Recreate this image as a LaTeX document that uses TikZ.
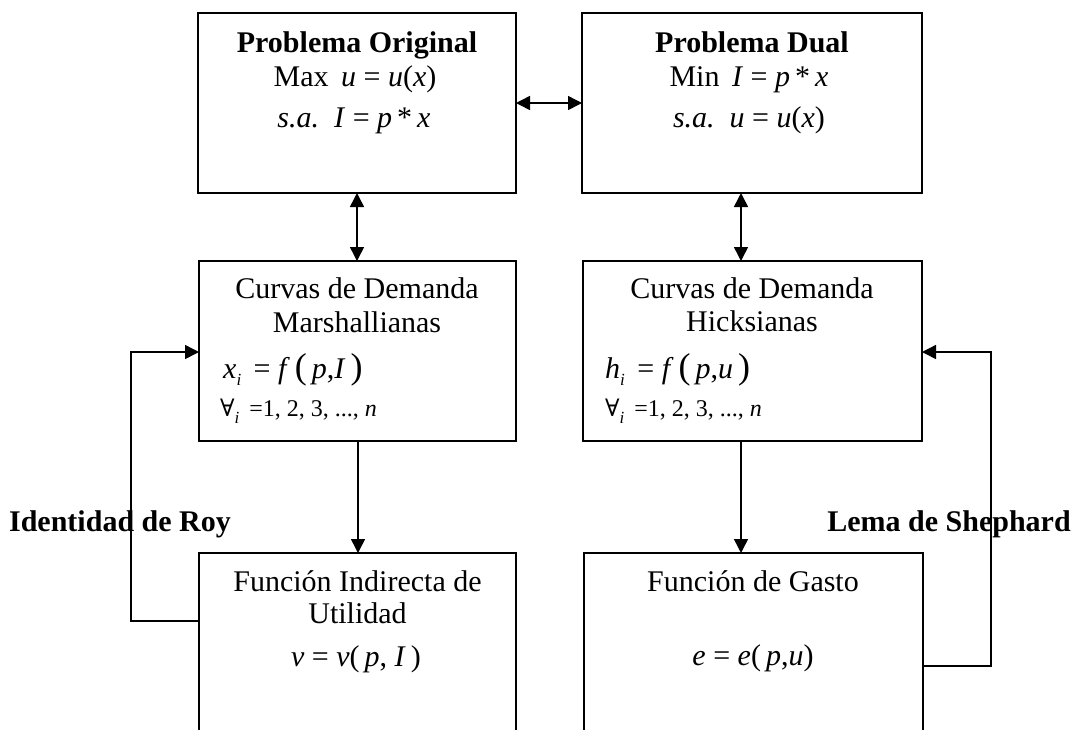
\documentclass[tikz,border=0pt]{standalone}
\usepackage{fontspec}
\setmainfont{Liberation Serif}
\newfontfamily\symf{DejaVu Serif}
\usetikzlibrary{arrows.meta}
\newcommand{\mysub}[1]{\raisebox{-7pt}{\fontsize{17}{17}\selectfont\itshape #1}}
\begin{document}
\begin{tikzpicture}[x=1pt,y=-1pt,
  box/.style={draw,line width=1.5pt,inner sep=0pt,outer sep=0pt,minimum height=180pt},
  txt/.style={anchor=base,inner sep=0pt,font=\fontsize{30}{34}\selectfont},
  txtl/.style={anchor=base west,inner sep=0pt,font=\fontsize{30}{34}\selectfont},
  small/.style={anchor=base west,inner sep=0pt,font=\fontsize{24}{28}\selectfont},
  lbl/.style={anchor=base,inner sep=0pt,font=\fontsize{30}{34}\selectfont\bfseries},
  conn/.style={line width=1.5pt},
  arr/.style={conn,-{Triangle[length=14pt,width=14pt]}},
  darr/.style={conn,{Triangle[length=14pt,width=14pt]}-{Triangle[length=14pt,width=14pt]}}]
\useasboundingbox (0,0) rectangle (1073,729);
\clip (0,0) rectangle (1073,729);
% boxes
\node[box,minimum width=318pt] (TL) at (357,103) {};
\node[box,minimum width=340pt] (TR) at (752,103) {};
\node[box,minimum width=317pt] (ML) at (357.5,351) {};
\node[box,minimum width=339pt] (MR) at (752.5,351) {};
\node[box,minimum width=317pt] (BL) at (357.5,643) {};
\node[box,minimum width=339pt] (BR) at (753.5,643) {};
% texts
\node[lbl] (tl1) at (357,52) {Problema Original};
\node[txt] (tl2) at (355,86) {Max\, \textit{u} = \textit{u}(\textit{x})};
\node[txt] (tl3) at (354,127) {\textit{s.a.}\, \textit{I} = \textit{p}\,*\,\textit{x}};
\node[lbl] (tr1) at (752,52) {Problema Dual};
\node[txt] (tr2) at (749,86) {Min\, \textit{I} = \textit{p}\,*\,\textit{x}};
\node[txt] (tr3) at (749,127) {\textit{s.a.}\, \textit{u} = \textit{u}(\textit{x})};
\node[txt] (ml1) at (357,298) {Curvas de Demanda};
\node[txt] (ml2) at (357,332) {Marshallianas};
\node[txtl] (ml3) at (223,378) {\textit{x}\mysub{i}\, = \textit{f}\,{\fontsize{36}{36}\selectfont(}\,\textit{p},\textit{I}\,{\fontsize{36}{36}\selectfont)}};
\node[small] (ml4) at (220,416) {{\symf ∀}\mysub{i}\, =1, 2, 3, ..., \textit{n}};
\node[txt] (mr1) at (752,298) {Curvas de Demanda};
\node[txt] (mr2) at (752,331) {Hicksianas};
\node[txtl] (mr3) at (605,378) {\textit{h}\mysub{i}\, = \textit{f}\,{\fontsize{36}{36}\selectfont(}\,\textit{p},\textit{u}\,{\fontsize{36}{36}\selectfont)}};
\node[small] (mr4) at (605,416) {{\symf ∀}\mysub{i}\, =1, 2, 3, ..., \textit{n}};
\node[txt] (bl1) at (357.5,591) {Función Indirecta de};
\node[txt] (bl2) at (357.5,623) {Utilidad};
\node[txt] (bl3) at (356,666) {\textit{v} = \textit{v}(\,\textit{p}, \textit{I}\,)};
\node[txt] (br1) at (753,591) {Función de Gasto};
\node[txt] (br2) at (753,665) {\textit{e} = \textit{e}(\,\textit{p},\textit{u})};
% labels
\node[lbl] (roy) at (120,531) {Identidad de Roy};
\node[lbl] (shep) at (949,531) {Lema de Shephard};
% connectors
\coordinate (rx) at (741,0);
\coordinate (lx) at (358,0);
\draw[darr] (TL.east) -- (TR.west);
\draw[darr] (TL.south) -- (TL.south |- ML.north);
\draw[darr] (rx |- TR.south) -- (rx |- MR.north);
\draw[arr] (lx |- ML.south) -- (lx |- BL.north);
\draw[arr] (rx |- MR.south) -- (rx |- BR.north);
\coordinate (royc) at (131,621);
\coordinate (royt) at (131,352);
\draw[arr] (royc -| BL.west) -- (royc) -- (royt) -- (royt -| ML.west);
\coordinate (shc) at (991,666);
\coordinate (sht) at (991,352);
\draw[arr] (shc -| BR.east) -- (shc) -- (sht) -- (sht -| MR.east);
\end{tikzpicture}
\end{document}
